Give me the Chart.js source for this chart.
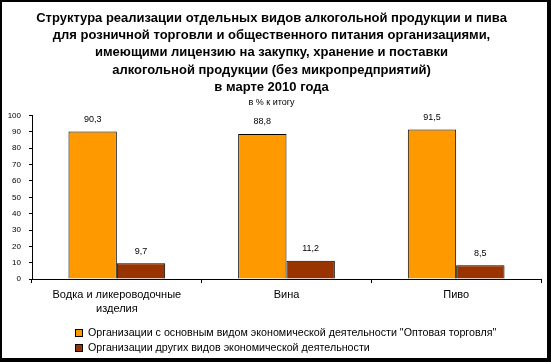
<!DOCTYPE html>
<html>
<head>
<meta charset="utf-8">
<script src="https://cdn.jsdelivr.net/npm/chart.js@4"></script>
<style>
  html, body { margin: 0; padding: 0; background: #fff; }
  #frame {
    width: 551px; height: 362px; box-sizing: border-box;
    border-style: solid; border-color: #000;
    border-width: 2px 4px 4px 2px;
    background: #fff;
  }
  canvas { display: block; }
</style>
</head>
<body>
<div id="frame"><canvas id="chart" width="545" height="356"></canvas></div>
<script>
// data
const categories = [['Водка и ликероводочные', 'изделия'], 'Вина', 'Пиво'];
const seriesNames = [
  'Организации с основным видом экономической деятельности "Оптовая торговля"',
  'Организации других видов экономической деятельности'
];
const wholesale = [90.3, 88.8, 91.5];
const others    = [9.7, 11.2, 8.5];
const yTicks    = [0, 10, 20, 30, 40, 50, 60, 70, 80, 90, 100];

const titleLines = [
  'Структура реализации отдельных видов алкогольной продукции и пива',
  'для розничной торговли и общественного питания организациями,',
  'имеющими лицензию на закупку, хранение и поставки',
  'алкогольной продукции (без микропредприятий)',
  'в марте 2010 года'
];
const subtitleText = 'в % к итогу';

const FONT = "'Liberation Sans', Arial, sans-serif";

function fmt(v) {
  return v.toFixed(1).replace('.', ',');
}

// value labels above the bars
const barLabels = {
  id: 'barLabels',
  afterDatasetsDraw(chart) {
    const ctx = chart.ctx;
    ctx.save();
    ctx.font = '9px ' + FONT;
    ctx.fillStyle = '#000';
    ctx.textAlign = 'center';
    ctx.textBaseline = 'middle';
    chart.data.datasets.forEach((ds, i) => {
      chart.getDatasetMeta(i).data.forEach((bar, j) => {
        ctx.fillText(fmt(ds.data[j]), bar.x, bar.y - 12);
      });
    });
    ctx.restore();
  }
};

// legend in the lower left, one row per series
const legendRows = {
  id: 'legendRows',
  afterDraw(chart) {
    const ctx = chart.ctx;
    ctx.save();
    ctx.font = '10.7px ' + FONT;
    ctx.textBaseline = 'middle';
    chart.data.datasets.forEach((ds, i) => {
      const y = 331 + i * 15;
      ctx.fillStyle = ds.backgroundColor;
      ctx.fillRect(74, y - 3, 6, 6);
      ctx.strokeStyle = '#000';
      ctx.lineWidth = 1;
      ctx.strokeRect(73.5, y - 3.5, 7, 7);
      ctx.fillStyle = '#000';
      ctx.fillText(ds.label, 86, y);
    });
    ctx.restore();
  }
};

new Chart(document.getElementById('chart'), {
  type: 'bar',
  data: {
    labels: categories,
    datasets: [
      { label: seriesNames[0], data: wholesale, backgroundColor: '#FF9900', borderColor: '#000', borderWidth: 1 },
      { label: seriesNames[1], data: others,    backgroundColor: '#993300', borderColor: '#000', borderWidth: 1 }
    ]
  },
  options: {
    responsive: false,
    animation: false,
    categoryPercentage: 0.57,
    barPercentage: 1,
    layout: { padding: { left: 0, right: 6, top: 0, bottom: 37 } },
    plugins: {
      legend: { display: false },
      tooltip: { enabled: false },
      title: {
        display: true,
        text: titleLines,
        color: '#000',
        font: { family: FONT, size: 13, weight: 'bold', lineHeight: 1.32 },
        padding: { top: 8, bottom: 0 }
      },
      subtitle: {
        display: true,
        text: subtitleText,
        color: '#000',
        font: { family: FONT, size: 9, lineHeight: 1.2 },
        padding: { top: 1, bottom: 8 }
      }
    },
    scales: {
      x: {
        grid: { display: true, drawOnChartArea: false, tickLength: 4, color: '#000' },
        border: { display: true, color: '#000', width: 1 },
        ticks: { color: '#000', padding: 5, font: { family: FONT, size: 11, lineHeight: 1.27 }, maxRotation: 0 }
      },
      y: {
        min: 0,
        max: 100,
        afterFit(scale) { scale.width = 30; },
        afterBuildTicks(scale) { scale.ticks = yTicks.map(v => ({ value: v })); },
        grid: { display: true, drawOnChartArea: false, tickLength: 3, color: '#000' },
        border: { display: true, color: '#000', width: 1 },
        ticks: { color: '#000', padding: 8, font: { family: FONT, size: 8 } }
      }
    }
  },
  plugins: [barLabels, legendRows]
});
</script>
</body>
</html>
